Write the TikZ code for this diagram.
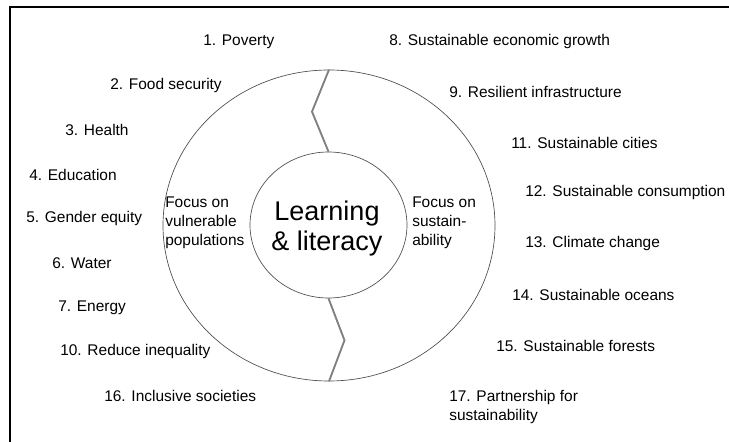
\documentclass[tikz,border=0pt]{standalone}
\usepackage{fontspec}
\setmainfont{Liberation Sans}
\usetikzlibrary{shapes,positioning,calc}

\begin{document}
\begin{tikzpicture}[x=0.75pt, y=-0.75pt,
    goal/.style={anchor=west, inner sep=0pt, font=\fontsize{11.6}{14.5}\selectfont},
    focus/.style={anchor=west, inner sep=0pt, align=left, font=\fontsize{11.6}{14.25}\selectfont},
    ring/.style={draw=black!70, ellipse, inner sep=0pt, line width=0.5pt},
    seam/.style={draw=gray, line width=1.4pt}]
    \useasboundingbox (0,0) rectangle (729,442);

    % Frame
    \draw[line width=1.5pt] (10,442) -- (10,7) -- (729,7);

    % Rings
    \node[ring, minimum width=249pt, minimum height=233.25pt] (outer) at (329,225.5) {};
    \node[ring, minimum width=117.75pt, minimum height=109.5pt] (inner) at (328.5,225) {};
    \node[align=center, inner sep=0pt, font=\fontsize{20.25}{22.5}\selectfont]
        (title) at (327,229) {Learning\\\& literacy};

    % Focus areas
    \node[focus] (vuln) at (165,223) {Focus on\\vulnerable\\populations};
    \node[focus] (sust) at (412,223) {Focus on\\sustain-\\ability};

    % Left goals
    \node[goal] (g1) at (203,42) {1. Poverty};
    \node[goal] (g2) at (110,86) {2. Food security};
    \node[goal] (g3) at (65,130) {3. Health};
    \node[goal] (g4) at (29,175) {4. Education};
    \node[goal] (g5) at (26,219) {5. Gender equity};
    \node[goal] (g6) at (52,263) {6. Water};
    \node[goal] (g7) at (58,308) {7. Energy};
    \node[goal] (g10) at (60,352) {10. Reduce inequality};
    \node[goal] (g16) at (104,396) {16. Inclusive societies};

    % Right goals
    \node[goal] (g8) at (389,42) {8. Sustainable economic growth};
    \node[goal] (g9) at (449,92) {9. Resilient infrastructure};
    \node[goal] (g11) at (511,143) {11. Sustainable cities};
    \node[goal] (g12) at (525,193) {12. Sustainable consumption};
    \node[goal] (g13) at (525,244) {13. Climate change};
    \node[goal] (g14) at (512,295) {14. Sustainable oceans};
    \node[goal] (g15) at (496,346) {15. Sustainable forests};
    \node[goal, align=left] (g17) at (449,407) {17. Partnership for\\sustainability};

    % Seams
    \draw[seam] (outer.north) -- ++(-17,42) -- (inner.north);
    \draw[seam] (inner.south) -- ++(16,42) -- (outer.south);
\end{tikzpicture}
\end{document}
